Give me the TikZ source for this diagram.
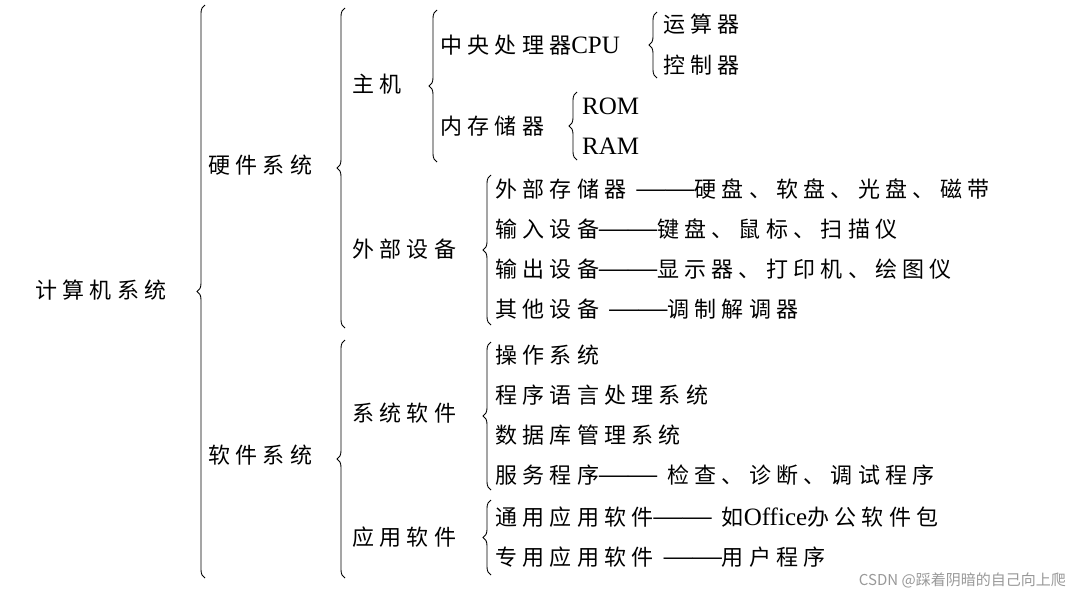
\documentclass[tikz,border=0pt]{standalone}
\usepackage{fontspec}
\setmainfont{Liberation Serif}
\newfontfamily\cjk[LetterSpace=24]{Noto Sans CJK SC}
\newfontfamily\cjkplain{Noto Sans CJK SC}
\newcommand{\lat}[1]{{\rmfamily\fontsize{25}{26}\selectfont #1}}
\newcommand{\dsh}{{\rmfamily\fontsize{29}{26}\selectfont ——}}
\usetikzlibrary{decorations.pathreplacing}
\tikzset{
  lbl/.style={anchor=west,inner sep=0pt,font=\fontsize{22}{24}\selectfont\cjk},
  brc/.style={draw,line width=0.9pt,decorate,decoration={brace,amplitude=8pt}},
  wm/.style={anchor=east,inner sep=0pt,font=\fontsize{15}{16}\selectfont\cjkplain,text=gray!80}
}
\begin{document}
\begin{tikzpicture}[x=1pt,y=-1pt]
\useasboundingbox[fill=white] (0,0) rectangle (1080,600);
% braces
\draw[brc] (205,578) -- (205,5);
\draw[brc] (345,328) -- (345,8);
\draw[brc] (345,578) -- (345,340);
\draw[brc] (437,162) -- (437,10);
\draw[brc] (491,325) -- (491,175);
\draw[brc] (491,490) -- (491,342);
\draw[brc] (491,575) -- (491,500);
\draw[brc] (657,78) -- (657,12);
\draw[brc] (577,160) -- (577,92);
% labels
\node[lbl] (root) at (35,290) {计算机系统};
\node[lbl] (hw) at (208,165) {硬件系统};
\node[lbl] (sw) at (208,455) {软件系统};
\node[lbl] (host) at (352,84) {主机};
\node[lbl] (ext) at (352,249) {外部设备};
\node[lbl] (sys) at (352,413) {系统软件};
\node[lbl] (app) at (352,537) {应用软件};
\node[lbl] (cpu) at (440,45) {中央处理器\lat{CPU}};
\node[lbl] (alu) at (663,24) {运算器};
\node[lbl] (ctl) at (663,65) {控制器};
\node[lbl] (mem) at (440,126) {内存储器};
\node[lbl] (rom) at (582,106) {\lat{ROM}};
\node[lbl] (ram) at (582,146) {\lat{RAM}};
\node[lbl] (e1) at (495,189) {外部存储器 \dsh 硬盘、软盘、光盘、磁带};
\node[lbl] (e2) at (495,229) {输入设备\dsh 键盘、鼠标、扫描仪};
\node[lbl] (e3) at (495,269) {输出设备\dsh 显示器、打印机、绘图仪};
\node[lbl] (e4) at (495,309) {其他设备 \dsh 调制解调器};
\node[lbl] (s1) at (495,355) {操作系统};
\node[lbl] (s2) at (495,395) {程序语言处理系统};
\node[lbl] (s3) at (495,435) {数据库管理系统};
\node[lbl] (s4) at (495,475) {服务程序\dsh{} 检查、诊断、调试程序};
\node[lbl] (a1) at (495,517) {通用应用软件\dsh{} 如\lat{Office}办公软件包};
\node[lbl] (a2) at (495,557) {专用应用软件 \dsh 用户程序};
\node[wm] (wmk) at (1066,580) {CSDN @踩着阴暗的自己向上爬};
\end{tikzpicture}
\end{document}
